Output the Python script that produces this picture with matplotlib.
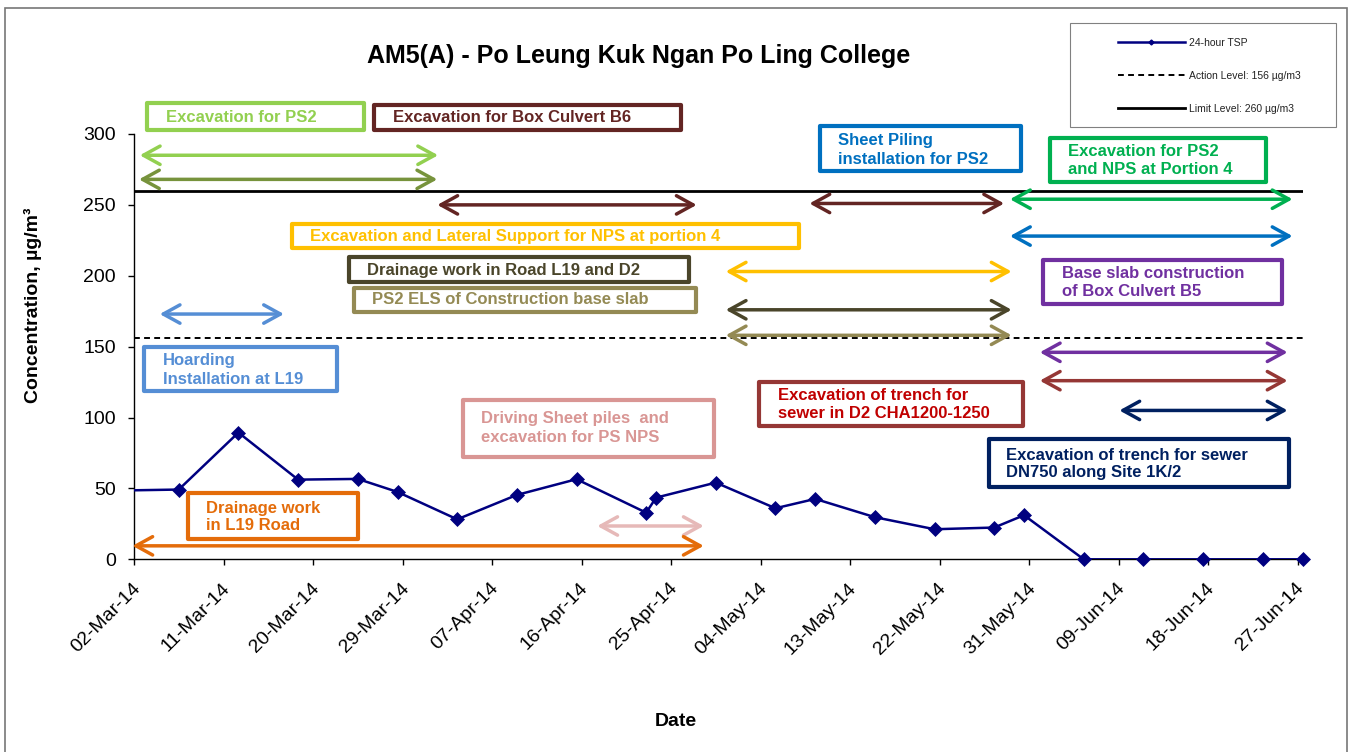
import numpy as np
import pandas as pd
import matplotlib
matplotlib.use('Agg')
import matplotlib.pyplot as plt
import matplotlib.dates as mdates
import matplotlib.transforms as mtransforms
from matplotlib.patches import Rectangle
from matplotlib.lines import Line2D

plt.rcParams['font.family'] = ['Liberation Sans', 'DejaVu Sans']

W, H = 1351, 752

# ---------------- data ----------------
sample_dates = ['2014-02-28', '2014-03-06', '2014-03-12', '2014-03-18', '2014-03-24',
                '2014-03-28', '2014-04-03', '2014-04-09', '2014-04-15', '2014-04-22',
                '2014-04-23', '2014-04-29', '2014-05-05', '2014-05-09', '2014-05-15',
                '2014-05-21', '2014-05-27', '2014-05-30', '2014-06-05', '2014-06-11',
                '2014-06-17', '2014-06-23', '2014-06-27']
tsp_values = [48.5, 49.2, 89.4, 56.2, 56.7, 47.5, 28.2, 45.4, 56.5, 32.9,
              43.5, 54.1, 36.0, 42.6, 29.7, 21.2, 22.4, 31.1, 0, 0, 0, 0, 0]
action_level = 156
limit_level = 260
tick_dates = pd.date_range('2014-03-02', '2014-06-27', freq='9D')
y_ticks = [0, 50, 100, 150, 200, 250, 300]

# activity arrows: start, end, level
arrow_start = ['2014-03-02 14:00', '2014-03-02 12:00', '2014-04-01 12:00', '2014-05-08 22:00',
               '2014-05-29 02:00', '2014-05-29 02:00', '2014-04-30 12:00', '2014-04-30 12:00',
               '2014-04-30 12:00', '2014-06-01 02:00', '2014-06-01 02:00', '2014-06-09 02:00',
               '2014-03-04 14:00', '2014-04-17 14:00', '2014-03-01 20:00']
arrow_end = ['2014-04-01 14:00', '2014-04-01 12:00', '2014-04-27 14:00', '2014-05-28 12:00',
             '2014-06-26 12:00', '2014-06-26 12:00', '2014-05-29 06:00', '2014-05-29 06:00',
             '2014-05-29 06:00', '2014-06-26 00:00', '2014-06-26 00:00', '2014-06-26 00:00',
             '2014-03-17 02:00', '2014-04-28 07:00', '2014-04-28 07:00']
arrow_level = [285, 268, 250, 251, 254, 228, 203, 176, 158, 146, 126, 105, 173, 23.5, 9.5]
arrow_colors = ['#92D050', '#77933C', '#632523', '#632523', '#00B050', '#0070C0',
                '#FFC000', '#4A452A', '#948A54', '#7030A0', '#953735', '#002060',
                '#558ED5', '#E6B9B8', '#E46C0A']

# activity labels
labels = ['Excavation for PS2',
          'Excavation for Box Culvert B6',
          'Sheet Piling\ninstallation for PS2',
          'Excavation for PS2\nand NPS at Portion 4',
          'Excavation and Lateral Support for NPS at portion 4',
          'Drainage work in Road L19 and D2',
          'PS2 ELS of Construction base slab',
          'Base slab construction\nof Box Culvert B5',
          'Hoarding\nInstallation at L19',
          'Excavation of trench for\nsewer in D2 CHA1200-1250',
          'Excavation of trench for sewer\nDN750 along Site 1K/2',
          'Driving Sheet piles  and\nexcavation for PS NPS',
          'Drainage work\nin L19 Road']
label_edge = ['#92D050', '#632523', '#0070C0', '#00B050', '#FFC000', '#4A452A', '#948A54',
              '#7030A0', '#558ED5', '#953735', '#002060', '#D99694', '#E46C0A']
label_text = ['#92D050', '#632523', '#0070C0', '#00B050', '#FFC000', '#4A452A', '#948A54',
              '#7030A0', '#558ED5', '#C00000', '#002060', '#D99694', '#E46C0A']
# layout of label boxes in pixels (x0, y0, x1, y1, text_x, text_yc)
label_layout = [(145, 101, 366, 132, 166, 117),
                (372, 103, 683, 132, 393, 117),
                (818, 124, 1023, 173, 838, 150),
                (1048, 136, 1268, 184, 1068, 161),
                (290, 222, 801, 250, 310, 236),
                (347, 255, 691, 284, 367, 270),
                (352, 286, 698, 314, 372, 299),
                (1041, 258, 1284, 306, 1062, 283),
                (142, 345, 339, 393, 163, 370),
                (757, 380, 1025, 428, 778, 405),
                (987, 437, 1291, 489, 1006, 464),
                (461, 398, 716, 459, 481, 428),
                (186, 491, 360, 541, 206, 517)]

# ---------------- figure ----------------
fig = plt.figure(figsize=(W / 100, H / 100), dpi=100)


def fx(x):
    return x / W


def fy(y):
    return 1 - y / H


# outer border
fig.patches.append(Rectangle((fx(5), fy(770)), fx(1347) - fx(5), fy(8) - fy(770),
                             transform=fig.transFigure, fill=False,
                             edgecolor='#777777', lw=1.2, zorder=0))

ax = fig.add_axes([fx(134), fy(559.3), fx(1303) - fx(134), fy(134) - fy(559.3)])
ax.set_facecolor('none')

x0 = mdates.date2num(pd.Timestamp('2014-03-02'))
ax.set_xlim(x0, x0 + 117.55)
ax.set_ylim(0, 300)

xs = mdates.date2num(pd.to_datetime(sample_dates)) + 0.5  # points centred in day slot
vals = np.array(tsp_values)

ax.axhline(limit_level, color='black', lw=2, zorder=2)
ax.axhline(action_level, color='black', lw=1.4, ls=(0, (3, 2.2)), zorder=2)

ax.plot(xs, vals, color='#000080', lw=1.8, zorder=4)
inside = xs >= x0
ax.plot(xs[inside], vals[inside], ls='none', marker='D', ms=6.8, color='#000080',
        mec='#000080', mew=0.5, zorder=5, clip_on=False)

# arrows
for s, e, lv, c in zip(arrow_start, arrow_end, arrow_level, arrow_colors):
    xa = mdates.date2num(pd.Timestamp(s))
    xb = mdates.date2num(pd.Timestamp(e))
    ax.annotate('', xy=(xb, lv), xytext=(xa, lv), xycoords='data',
                arrowprops=dict(arrowstyle='<->,head_length=0.6,head_width=0.33',
                                mutation_scale=20, lw=2.5, color=c,
                                shrinkA=0, shrinkB=0, joinstyle='round',
                                capstyle='round'),
                annotation_clip=False, zorder=3)

# spines and ticks
for sp in ['top', 'right']:
    ax.spines[sp].set_visible(False)
ax.spines['left'].set_linewidth(1.0)
ax.spines['bottom'].set_linewidth(1.0)
ax.set_yticks(y_ticks)
ax.set_xticks(mdates.date2num(tick_dates))
ax.xaxis.set_major_formatter(mdates.DateFormatter('%d-%b-%y'))
ax.tick_params(axis='y', direction='out', length=4, width=1, labelsize=14, pad=9)
ax.tick_params(axis='x', direction='out', length=4, width=1, labelsize=14, pad=15)
offset = mtransforms.ScaledTranslation(0.04, 0, fig.dpi_scale_trans)
for lab in ax.get_xticklabels():
    lab.set_rotation(45)
    lab.set_ha('right')
    lab.set_va('center')
    lab.set_rotation_mode('anchor')
    lab.set_transform(lab.get_transform() + offset)

ax.set_ylabel('Concentration, µg/m³', fontsize=14, fontweight='bold')
ax.yaxis.set_label_coords((42 - 134) / 1169, (559.3 - 305) / 425.3)
ax.set_xlabel('Date', fontsize=14, fontweight='bold')
ax.xaxis.set_label_coords((676 - 134) / 1169, (559.3 - 713) / 425.3)

fig.text(fx(639), fy(56), 'AM5(A) - Po Leung Kuk Ngan Po Ling College',
         ha='center', va='center', fontsize=18, fontweight='bold')

# label boxes
for txt, ec, tc, (bx0, by0, bx1, by1, tx, ty) in zip(labels, label_edge, label_text, label_layout):
    fig.patches.append(Rectangle((fx(bx0 + 2), fy(by1 - 2)), fx(bx1 - 2) - fx(bx0 + 2),
                                 fy(by0 + 2) - fy(by1 - 2), transform=fig.transFigure,
                                 facecolor='white', edgecolor=ec, lw=3,
                                 joinstyle='round', zorder=6))
    fig.text(fx(tx), fy(ty), txt, ha='left', va='center', fontsize=12,
             fontweight='bold', color=tc, linespacing=1.25, zorder=7)

# legend
fig.patches.append(Rectangle((fx(1070), fy(127)), fx(1336) - fx(1070), fy(23) - fy(127),
                             transform=fig.transFigure, facecolor='white',
                             edgecolor='#808080', lw=0.8, zorder=6))
handles = [Line2D([], [], color='#000080', lw=1.8, marker='D', ms=2.5),
           Line2D([], [], color='black', lw=1.4, ls=(0, (3, 2.2))),
           Line2D([], [], color='black', lw=2)]
leg = fig.legend(handles, ['24-hour TSP', 'Action Level: 156 µg/m3', 'Limit Level: 260 µg/m3'],
                 loc='upper left', bbox_to_anchor=(fx(1118), fy(38)), frameon=False,
                 fontsize=7.5, handlelength=6.4, handletextpad=0.4, labelspacing=2.2,
                 borderpad=0, borderaxespad=0)
leg.set_zorder(8)
for t in leg.get_texts():
    t.set_color('#222222')

fig.savefig('out.png', dpi=100)
